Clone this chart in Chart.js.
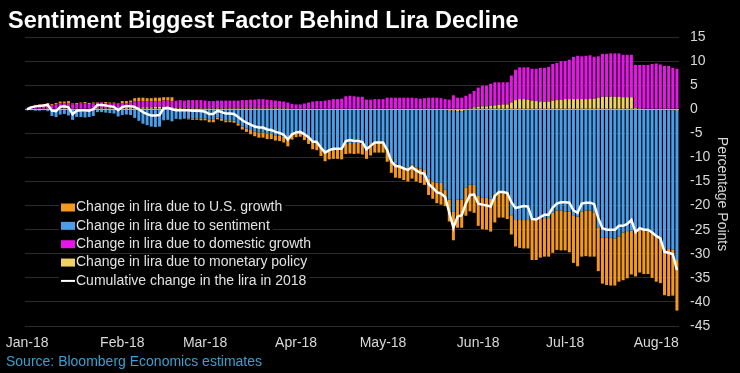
<!DOCTYPE html>
<html>
<head>
<meta charset="utf-8">
<script src="https://cdn.jsdelivr.net/npm/chart.js@4.4.0/dist/chart.umd.min.js"></script>
<style>
  html, body { margin: 0; padding: 0; background: #000; }
  #wrap { width: 740px; height: 373px; }
</style>
</head>
<body>
<div id="wrap"><canvas id="liraChart" width="740" height="373"></canvas></div>
<script>
// Month tick labels and number of trading days in each month shown
const monthLabels = ['Jan-18', 'Feb-18', 'Mar-18', 'Apr-18', 'May-18', 'Jun-18', 'Jul-18', 'Aug-18'];
const monthDays = [23, 20, 22, 21, 23, 21, 22, 6];

// Change in lira due to monetary policy (pp)
const monetary = [
  0.0, 0.1, 0.1, 0.1, 0.1, 0.2, 0.1, 0.1, 0.2, 0.2, 0.2, 0.1, 0.1, 0.1, 0.1, 0.1, 0.1, 0.2, 0.2, 0.2, 0.2, 0.2, 0.2,
  0.3, 0.3, 0.3, 0.4, 0.4, 0.4, 0.4, 0.4, 0.5, 0.5, 0.5, 0.5, 0.4, 0.3, 0.3, 0.2, 0.2, 0.2, 0.2, 0.2,
  0.2, 0.2, 0.2, 0.2, 0.2, 0.2, 0.2, 0.2, 0.2, 0.2, 0.2, 0.2, 0.2, 0.2, 0.2, 0.2, 0.2, 0.2, 0.2, 0.2, 0.2, 0.1,
  0.1, 0.1, 0.1, 0.1, 0.1, 0.1, 0.1, 0.1, 0.1, 0.1, 0.1, 0.1, 0.1, 0.1, 0.1, 0.1, 0.1, 0.1, 0.1, 0.1, 0.1,
  0.1, 0.1, 0.1, 0.1, 0.1, 0.1, 0.1, 0.1, 0.1, 0.1, 0.1, 0.1, 0.1, 0.1, 0.0, -0.1, -0.3, -0.3, -0.4, -0.4, -0.2, 0.2, 0.4,
  0.5, 0.6, 0.6, 0.7, 0.8, 0.9, 1.0, 1.0, 1.4, 1.9, 2.1, 2.1, 2.0, 1.8, 1.7, 1.6, 1.5, 1.6, 1.8, 1.9, 2.0,
  2.1, 2.1, 2.1, 2.1, 2.1, 2.1, 2.2, 2.2, 2.4, 2.6, 2.6, 2.6, 2.6, 2.6, 2.5, 2.5, 2.5, 0.3, 0.2, 0.1, 0.1, 0.0,
  -0.1, -0.1, -0.2, -0.2, -0.2, -0.3
];

// Change in lira due to sentiment (pp)
const sentiment = [
  -0.2, -0.2, -0.3, -0.3, -0.2, -0.4, -1.4, -1.6, -1.1, -1.0, -1.3, -2.2, -1.6, -1.6, -1.7, -1.6, -1.4, -0.6, -0.6, -0.7, -0.8, -0.9, -1.5,
  -1.2, -1.1, -1.2, -1.8, -2.4, -3.0, -3.3, -3.6, -3.7, -3.6, -2.3, -2.2, -2.5, -2.0, -2.1, -1.9, -1.9, -1.9, -1.9, -1.9,
  -1.9, -2.2, -2.2, -1.7, -2.0, -2.3, -2.3, -2.4, -2.9, -3.6, -4.0, -4.3, -4.6, -4.8, -4.8, -5.1, -5.1, -5.4, -5.5, -5.7, -6.4, -5.2,
  -4.9, -4.8, -5.4, -6.0, -6.7, -6.8, -7.8, -8.7, -8.4, -8.3, -8.3, -8.4, -7.1, -7.0, -7.0, -6.9, -7.1, -8.0, -7.3, -6.7, -6.7,
  -6.7, -8.2, -10.3, -11.3, -11.6, -11.9, -12.2, -11.5, -12.1, -12.3, -12.6, -14.4, -15.0, -15.2, -15.3, -16.6, -18.5, -21.0, -18.4, -18.4, -16.0, -15.6, -15.7,
  -18.0, -18.4, -18.4, -18.6, -17.5, -17.0, -17.0, -17.2, -22.0, -23.0, -23.0, -23.0, -23.0, -23.0, -23.0, -22.8, -22.6, -22.6, -21.5, -21.0, -21.0,
  -21.2, -21.3, -22.0, -22.3, -21.2, -21.0, -21.0, -21.4, -24.5, -26.7, -26.7, -26.7, -26.8, -26.4, -25.6, -25.3, -25.2, -25.2, -25.0, -25.1, -25.2, -25.6,
  -26.3, -26.6, -28.8, -28.8, -28.9, -31.0
];

// Change in lira due to domestic growth (pp)
const domestic = [
  0.2, 0.4, 0.7, 0.8, 0.8, 0.9, 0.8, 0.9, 1.0, 1.0, 1.1, 0.9, 1.0, 1.1, 1.1, 1.0, 1.1, 1.2, 1.2, 1.1, 1.0, 1.0, 1.0,
  1.0, 1.0, 1.1, 1.2, 1.2, 1.2, 1.2, 1.2, 1.2, 1.2, 1.3, 1.3, 1.3, 1.5, 1.6, 1.6, 1.7, 1.7, 1.7, 1.7,
  1.6, 1.5, 1.5, 1.6, 1.6, 1.6, 1.6, 1.6, 1.6, 1.7, 1.7, 1.8, 1.8, 1.9, 1.9, 1.8, 1.7, 1.6, 1.5, 1.4, 1.2, 1.0,
  0.9, 0.9, 1.1, 1.3, 1.5, 1.6, 1.6, 1.7, 1.8, 2.0, 2.0, 2.1, 2.6, 2.7, 2.6, 2.5, 2.5, 1.9, 1.9, 2.0, 2.0,
  2.0, 2.3, 2.3, 2.3, 2.3, 2.3, 2.3, 2.3, 2.2, 2.1, 2.2, 2.3, 2.3, 2.3, 2.3, 2.1, 2.0, 2.9, 2.4, 2.4, 2.8, 3.0, 3.4,
  4.0, 4.3, 4.3, 4.6, 4.8, 4.7, 4.6, 4.6, 5.6, 6.3, 6.6, 6.6, 6.7, 6.6, 6.7, 7.0, 7.1, 7.2, 7.6, 7.7, 8.0,
  7.9, 8.2, 8.8, 9.0, 8.9, 9.0, 9.0, 8.7, 8.6, 8.9, 8.9, 9.0, 9.0, 9.0, 8.8, 8.8, 8.8, 8.9, 9.0, 9.1, 9.1, 9.4,
  9.5, 9.3, 9.0, 9.0, 8.6, 8.4
];

// Change in lira due to U.S. growth (pp)
const usGrowth = [
  0.0, 0.1, 0.1, 0.1, 0.1, 0.2, 0.2, 0.3, 0.4, 0.4, 0.4, 0.2, 0.2, 0.2, 0.3, 0.2, 0.2, 0.1, 0.1, 0.2, 0.2, 0.2, 0.1,
  0.4, 0.4, 0.4, 0.7, 0.8, 0.8, 0.7, 0.7, 0.7, 0.7, 0.7, 0.7, 0.8, 0.0, 0.0, -0.1, -0.2, -0.3, -0.3, -0.4,
  -0.4, -0.5, -0.5, -0.4, -0.4, -0.4, -0.4, -0.4, -0.5, -0.6, -0.7, -0.9, -1.0, -1.1, -1.1, -1.1, -1.1, -1.1, -1.1, -1.2, -1.3, -1.1,
  -0.9, -0.9, -1.0, -1.2, -1.6, -1.7, -1.9, -2.1, -2.0, -2.0, -2.0, -2.0, -2.2, -2.2, -2.3, -2.3, -2.3, -2.3, -2.3, -2.3, -2.3,
  -2.3, -2.7, -2.9, -2.9, -2.7, -2.8, -2.8, -2.9, -2.9, -3.0, -3.1, -3.4, -3.6, -4.3, -4.5, -3.4, -4.5, -5.9, -5.8, -5.8, -5.9, -5.6, -5.8,
  -6.2, -6.5, -6.6, -6.8, -6.0, -5.5, -5.5, -5.6, -4.0, -5.5, -5.8, -5.9, -5.9, -8.3, -8.3, -8.0, -8.0, -8.0, -8.3, -8.2, -8.3,
  -8.1, -8.4, -9.9, -10.3, -9.4, -9.5, -9.6, -9.2, -9.1, -9.5, -9.8, -9.9, -9.8, -9.4, -9.9, -9.8, -9.1, -9.5, -8.9, -9.1, -9.0, -9.4,
  -9.4, -9.4, -9.6, -9.8, -9.6, -10.5
];

// Cumulative change in the lira in 2018 (%)
const cumulative = [
  0.0, 0.4, 0.6, 0.7, 0.8, 0.9, -0.3, -0.4, 0.5, 0.6, 0.4, -1.0, -0.3, -0.2, -0.2, -0.3, 0.0, 0.9, 0.9, 0.8, 0.6, 0.5, -0.2,
  0.5, 0.6, 0.6, 0.5, 0.0, -0.6, -1.0, -1.3, -1.3, -1.2, 0.2, 0.3, 0.0, -0.2, -0.2, -0.2, -0.2, -0.3, -0.3, -0.35,
  -0.5, -1.0, -1.0, -0.3, -0.6, -0.9, -0.9, -1.0, -1.6, -2.3, -2.8, -3.2, -3.6, -3.8, -3.8, -4.2, -4.3, -4.7, -4.9, -5.3, -6.3, -5.2,
  -4.8, -4.7, -5.2, -5.8, -6.7, -6.8, -8.0, -9.0, -8.5, -8.2, -8.2, -8.2, -6.6, -6.4, -6.6, -6.6, -6.8, -8.3, -7.6, -6.9, -6.9,
  -6.9, -8.5, -10.8, -11.8, -11.9, -12.3, -12.6, -12.0, -12.7, -13.2, -13.4, -15.5, -16.3, -17.2, -17.5, -18.2, -21.5, -24.6, -22.3, -22.0, -19.6, -17.8, -17.7,
  -19.6, -19.8, -20.0, -20.2, -18.0, -17.2, -17.2, -17.4, -19.3, -20.5, -20.3, -20.1, -20.2, -22.8, -22.9, -22.4, -21.9, -21.9, -20.4, -19.6, -19.3,
  -19.3, -19.4, -21.0, -21.5, -19.6, -19.4, -19.4, -19.7, -22.6, -24.7, -25.0, -25.0, -25.0, -24.2, -24.2, -23.8, -23.0, -25.5, -24.7, -25.0, -25.0, -25.6,
  -26.3, -26.8, -29.6, -29.8, -30.1, -33.4
];

const FONT = "'Liberation Sans', Arial, Helvetica, sans-serif";

// one category per trading day, month label on the first day of each month
const labels = [];
const monthStart = {};
monthDays.forEach(function(n, m) {
    monthStart[labels.length] = monthLabels[m];
    for (let d = 0; d < n; d++) labels.push(monthLabels[m] + ' ' + (d + 1));
});

const legendItems = [
    { text: 'Change in lira due to U.S. growth', color: '#f39a1e' },
    { text: 'Change in lira due to sentiment', color: '#4a9de8' },
    { text: 'Change in lira due to domestic growth', color: '#e815e8' },
    { text: 'Change in lira due to monetary policy', color: '#f0d264' },
    { text: 'Cumulative change in the lira in 2018', color: '#ffffff', line: true }
];

const decorPlugin = {
    id: 'decor',
    beforeDatasetDraw: function(chart, args) {
        // light zero line sits over the bars but under the cumulative line
        if (args.meta.type !== 'line') return;
        const ctx = chart.ctx;
        const area = chart.chartArea;
        const y0 = Math.round(chart.scales.y.getPixelForValue(0)) + 0.5;
        ctx.save();
        ctx.strokeStyle = '#b0b0b0';
        ctx.lineWidth = 1;
        ctx.beginPath();
        ctx.moveTo(area.left, y0);
        ctx.lineTo(area.right, y0);
        ctx.stroke();
        ctx.restore();
    },
    afterDraw: function(chart) {
        const ctx = chart.ctx;
        ctx.save();
        // title
        ctx.fillStyle = '#ffffff';
        ctx.font = 'bold 23.5px ' + FONT;
        ctx.textAlign = 'left';
        ctx.textBaseline = 'alphabetic';
        ctx.fillText('Sentiment Biggest Factor Behind Lira Decline', 8, 28);

        // source
        ctx.fillStyle = '#3a9fd0';
        ctx.font = '14px ' + FONT;
        ctx.fillText('Source: Bloomberg Economics estimates', 6, 366);

        // axis title
        ctx.save();
        ctx.translate(722, 194);
        ctx.rotate(Math.PI / 2);
        ctx.fillStyle = '#d6d6d6';
        ctx.font = '14px ' + FONT;
        ctx.textAlign = 'center';
        ctx.textBaseline = 'middle';
        ctx.fillText('Percentage Points', 0, 0);
        ctx.restore();

        // legend
        ctx.font = '14px ' + FONT;
        ctx.textBaseline = 'middle';
        legendItems.forEach(function(item, i) {
            const y = 207.5 + i * 18.35;
            const w = ctx.measureText(item.text).width;
            ctx.fillStyle = '#000000';
            ctx.fillRect(59, y - 8, w + 20, 16);
            if (item.line) {
                ctx.strokeStyle = item.color;
                ctx.lineWidth = 2;
                ctx.beginPath();
                ctx.moveTo(61, y);
                ctx.lineTo(75, y);
                ctx.stroke();
            } else {
                ctx.fillStyle = item.color;
                ctx.fillRect(61, y - 4, 14, 8);
            }
            ctx.fillStyle = '#e2e2e2';
            ctx.fillText(item.text, 76, y);
        });
        ctx.restore();
    }
};

const barCommon = { stack: 'parts', barPercentage: 0.72, categoryPercentage: 1.0, order: 2 };

new Chart(document.getElementById('liraChart').getContext('2d'), {
    type: 'bar',
    data: {
        labels: labels,
        datasets: [
            Object.assign({ label: 'Change in lira due to monetary policy', data: monetary, backgroundColor: '#f0d264' }, barCommon),
            Object.assign({ label: 'Change in lira due to sentiment', data: sentiment, backgroundColor: '#4a9de8' }, barCommon),
            Object.assign({ label: 'Change in lira due to domestic growth', data: domestic, backgroundColor: '#e815e8' }, barCommon),
            Object.assign({ label: 'Change in lira due to U.S. growth', data: usGrowth, backgroundColor: '#f39a1e' }, barCommon),
            {
                type: 'line',
                label: 'Cumulative change in the lira in 2018',
                data: cumulative,
                stack: 'line',
                borderColor: '#ffffff',
                borderWidth: 2.5,
                pointRadius: 0,
                tension: 0,
                order: 0
            }
        ]
    },
    options: {
        responsive: false,
        animation: false,
        layout: { padding: { left: 25, top: 37, right: 0, bottom: 0 } },
        plugins: {
            legend: { display: false },
            title: { display: false },
            tooltip: { enabled: false }
        },
        scales: {
            x: {
                stacked: true,
                grid: { display: false },
                border: { display: false },
                ticks: {
                    color: '#d9d9d9',
                    font: { family: FONT, size: 14 },
                    autoSkip: false,
                    maxRotation: 0,
                    padding: 1,
                    callback: function(value, index) {
                        return monthStart[index] || '';
                    }
                },
                afterFit: function(scale) { scale.height = 47; }
            },
            y: {
                position: 'right',
                stacked: true,
                min: -45,
                max: 15,
                border: { display: false },
                grid: { color: '#2b2b2b', drawTicks: false, lineWidth: 1 },
                ticks: {
                    stepSize: 5,
                    color: '#d9d9d9',
                    font: { family: FONT, size: 14 },
                    padding: 11
                },
                afterFit: function(scale) { scale.width = 61; }
            }
        }
    },
    plugins: [decorPlugin]
});
</script>
</body>
</html>
